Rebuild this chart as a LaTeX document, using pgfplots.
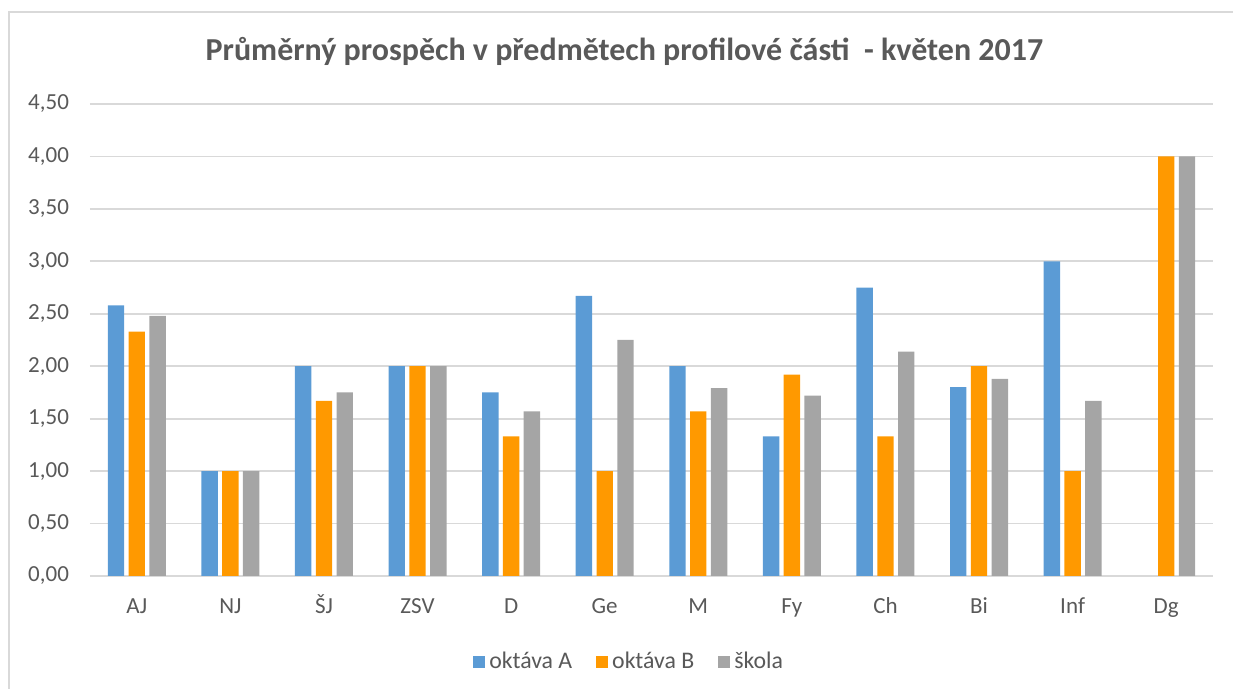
\documentclass[border=0pt]{standalone}
\usepackage{pgfplots}
\pgfplotsset{compat=1.18}
\usepackage{fontspec}
\setmainfont{Carlito}
\definecolor{cA}{HTML}{5B9BD5}
\definecolor{cB}{HTML}{FF9900}
\definecolor{cS}{HTML}{A5A5A5}
\definecolor{txt}{HTML}{595959}
\definecolor{grd}{HTML}{D9D9D9}
\begin{document}
\begin{tikzpicture}
\useasboundingbox (0,0) rectangle (616.5pt,344.5pt);
\draw[grd, line width=1pt] (4.25pt,0) -- (4.25pt,338.25pt) -- (616.5pt,338.25pt);
\begin{axis}[
  at={(45pt,56.5pt)}, anchor=south west,
  width=561.5pt, height=236pt, scale only axis,
  xmin=-0.5, xmax=11.5, ymin=0, ymax=4.5,
  ytick={0,0.5,1,1.5,2,2.5,3,3.5,4,4.5},
  xtick={0,1,2,3,4,5,6,7,8,9,10,11},
  xticklabels={AJ,NJ,ŠJ,ZSV,D,Ge,M,Fy,Ch,Bi,Inf,Dg},
  ymajorgrids, grid style={grd, line width=0.9pt},
  axis line style={draw=none},
  major tick length=0pt,
  /pgf/number format/assume math mode=true,
  tick label style={font=\fontsize{11.5}{13}\selectfont, text=txt},
  yticklabel style={/pgf/number format/fixed, /pgf/number format/fixed zerofill, /pgf/number format/precision=2, /pgf/number format/use comma, xshift=-7pt},
  xticklabel style={anchor=base, yshift=-19pt},
  ybar=2.2pt, bar width=8.2pt,
  title={Průměrný prospěch v předmětech profilové části\ \ - květen 2017},
  title style={at={(0.476,1.086)}, anchor=center, font=\fontsize{16}{18}\selectfont\bfseries, text=txt},
  legend style={at={(0.481,-0.182)}, anchor=center, legend columns=3, draw=none,
    font=\fontsize{11.9}{13}\selectfont, text=txt,
    /tikz/every even column/.append style={column sep=10pt}},
  legend image code/.code={\fill[#1] (-1pt,-3pt) rectangle (5pt,3pt);},
  legend style={/tikz/every odd column/.append style={xshift=2pt}},
]
\addplot[fill=cA, draw=none] coordinates {(0,2.58) (1,1) (2,2) (3,2) (4,1.75) (5,2.67) (6,2) (7,1.33) (8,2.75) (9,1.8) (10,3)};
\addplot[fill=cB, draw=none] coordinates {(0,2.33) (1,1) (2,1.67) (3,2) (4,1.33) (5,1) (6,1.57) (7,1.92) (8,1.33) (9,2) (10,1) (11,4)};
\addplot[fill=cS, draw=none] coordinates {(0,2.48) (1,1) (2,1.75) (3,2) (4,1.57) (5,2.25) (6,1.79) (7,1.72) (8,2.14) (9,1.88) (10,1.67) (11,4)};
\legend{oktáva A, oktáva B, škola}
\end{axis}
\end{tikzpicture}
\end{document}
